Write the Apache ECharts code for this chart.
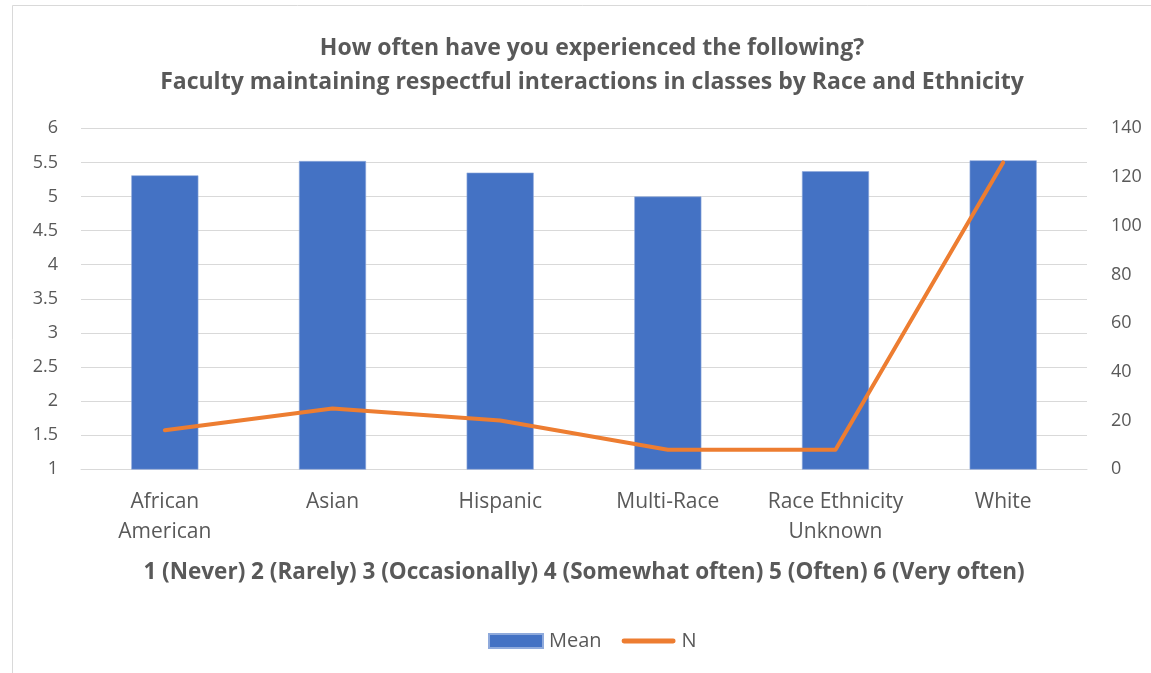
<!DOCTYPE html>
<html>
<head>
<meta charset="utf-8">
<script src="https://cdn.jsdelivr.net/npm/echarts@6/dist/echarts.min.js"></script>
<style>
  html, body { margin: 0; padding: 0; background: #fff; }
  #chart { width: 1151px; height: 673px; }
</style>
</head>
<body>
<div id="chart"></div>
<script>
// Survey results by race and ethnicity
const categories = ['African\nAmerican', 'Asian', 'Hispanic', 'Multi-Race', 'Race Ethnicity\nUnknown', 'White'];
const meanValues = [5.31, 5.52, 5.35, 5.00, 5.37, 5.53];
const nValues = [16, 25, 20, 8, 8, 126];
const titleLines = ['How often have you experienced the following?', 'Faculty maintaining respectful interactions in classes by Race and Ethnicity'];
const scaleCaption = '1 (Never) 2 (Rarely) 3 (Occasionally) 4 (Somewhat often) 5 (Often) 6 (Very often)';

const FONT = '"Open Sans", "Noto Sans", sans-serif';
const GREY = '#595959';

const chart = echarts.init(document.getElementById('chart'), null, { renderer: 'canvas' });

chart.setOption({
  backgroundColor: '#ffffff',
  animation: false,
  textStyle: { fontFamily: FONT },
  graphic: [{
    type: 'rect',
    shape: { x: 12.5, y: 5.5, width: 1200, height: 700 },
    style: { fill: 'none', stroke: '#d9d9d9', lineWidth: 1 },
    silent: true
  }],
  title: {
    text: titleLines.join('\n'),
    left: 587,
    textAlign: 'center',
    top: 26,
    textStyle: { fontFamily: FONT, fontSize: 23, fontWeight: 'bold', color: GREY, lineHeight: 34 }
  },
  legend: {
    bottom: 17,
    left: 483,
    itemGap: 20,
    itemWidth: 54,
    itemHeight: 14,
    textStyle: { fontFamily: FONT, fontSize: 20, color: GREY, padding: [0, 0, 0, 1] },
    data: [
      { name: 'Mean', icon: 'rect' },
      { name: 'N', icon: 'path://M2.5,0 L53.5,0 A2.5,2.5 0 0 1 53.5,5 L2.5,5 A2.5,2.5 0 0 1 2.5,0 Z' }
    ]
  },
  grid: { left: 81, right: 64, top: 128.3, bottom: 203.7, containLabel: false },
  xAxis: {
    type: 'category',
    data: categories,
    axisLine: { show: true, lineStyle: { color: '#d9d9d9', width: 1 } },
    axisTick: { show: false },
    axisLabel: { fontFamily: FONT, fontSize: 21, color: GREY, margin: 18, lineHeight: 30, interval: 0 },
    name: scaleCaption,
    nameLocation: 'middle',
    nameGap: 92,
    nameTextStyle: { fontFamily: FONT, fontSize: 22.5, fontWeight: 'bold', color: GREY }
  },
  yAxis: [{
    type: 'value',
    min: 1,
    max: 6,
    interval: 0.5,
    axisLine: { show: false },
    axisTick: { show: false },
    splitLine: { lineStyle: { color: '#d9d9d9', width: 1 } },
    axisLabel: { fontFamily: FONT, fontSize: 18, color: GREY, margin: 23 }
  }, {
    type: 'value',
    min: 0,
    max: 140,
    interval: 20,
    axisLine: { show: false },
    axisTick: { show: false },
    splitLine: { show: false },
    axisLabel: { fontFamily: FONT, fontSize: 18, color: GREY, margin: 24 }
  }],
  series: [{
    name: 'Mean',
    type: 'bar',
    yAxisIndex: 0,
    data: meanValues,
    barWidth: '40%',
    itemStyle: { color: '#4472C4', borderColor: '#8faadc', borderWidth: 0.6 }
  }, {
    name: 'N',
    type: 'line',
    yAxisIndex: 1,
    data: nValues,
    showSymbol: false,
    symbol: 'none',
    lineStyle: { color: '#ED7D31', width: 4, cap: 'round', join: 'round' },
    itemStyle: { color: '#ED7D31' }
  }]
});
</script>
</body>
</html>
